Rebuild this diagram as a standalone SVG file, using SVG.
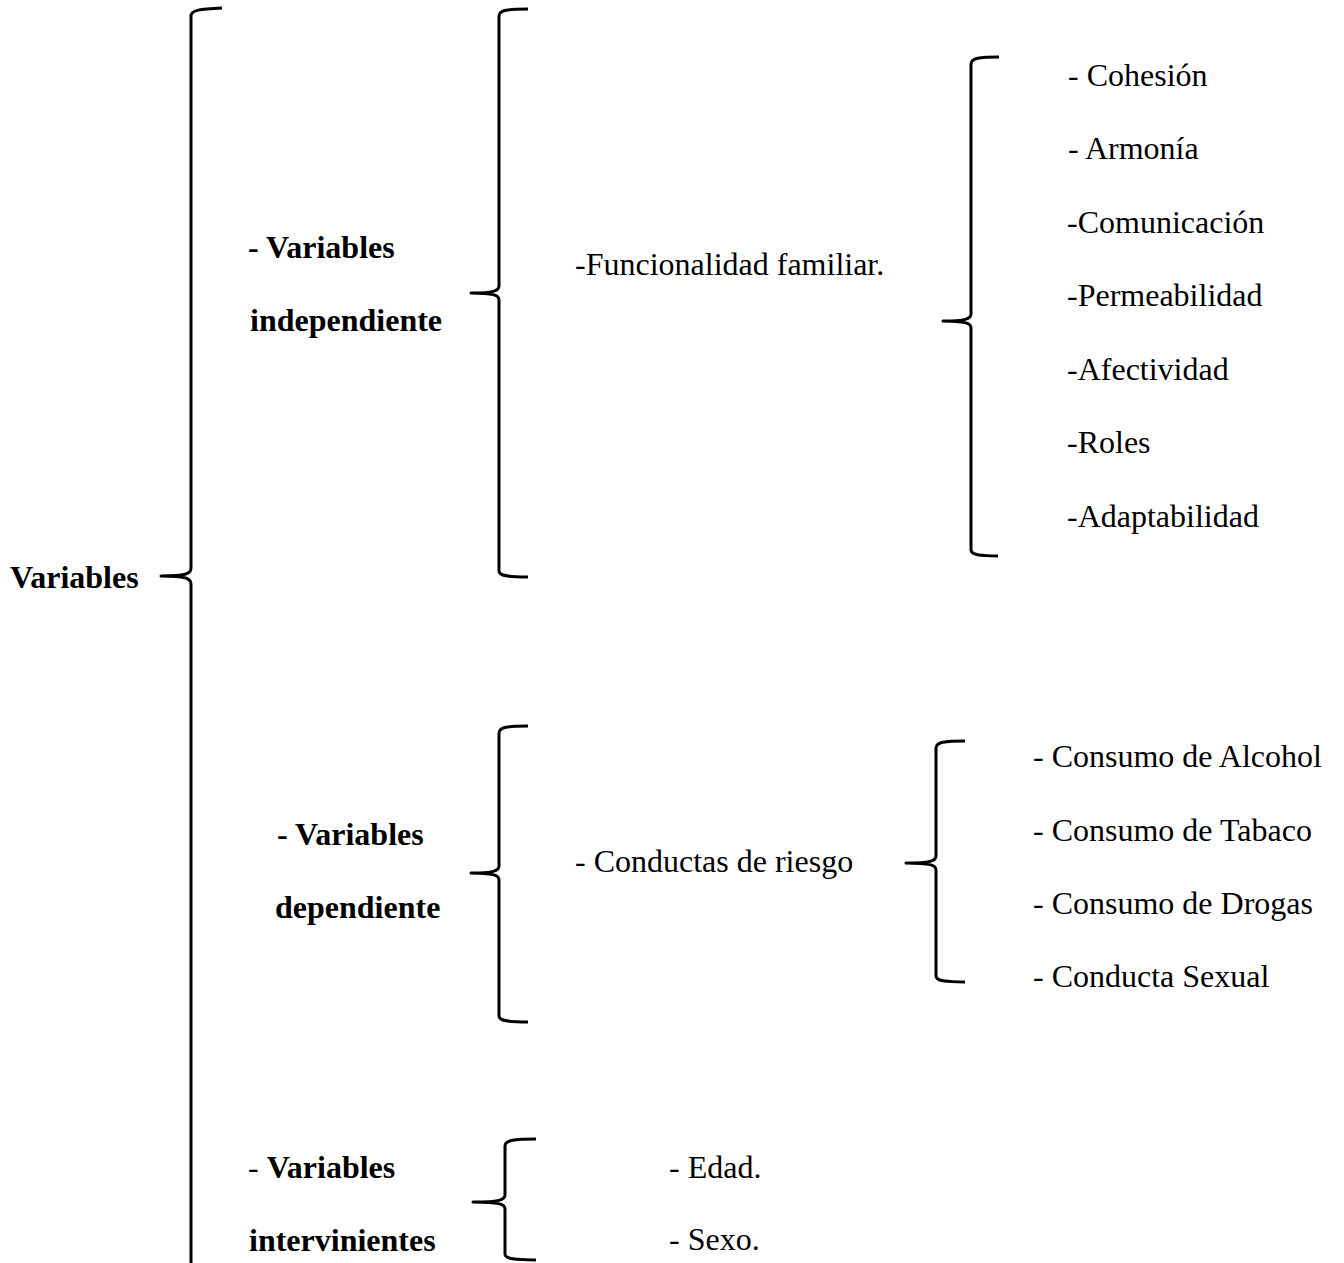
<svg xmlns="http://www.w3.org/2000/svg" width="1344" height="1263" viewBox="0 0 1344 1263">
<style>
text{font-family:"Liberation Serif","Times New Roman",serif;font-size:32px;fill:#000}
.b{font-weight:bold}
.br{fill:none;stroke:#000;stroke-width:3;stroke-linecap:butt;stroke-linejoin:round}
</style>
<rect width="1344" height="1263" fill="#fff"/>
<g id="connectors">
<path class="br" d="M222,8 C200,9 191,10 191,16 L191,568 C191,574 185,576 161,576 C185,576 191,578 191,584 L191,1263"/>
<path class="br" d="M528,9 C508,9 499,10 499,16 L499,286 C499,291 493,293 471,293 C493,293 499,295 499,300 L499,571 C499,576 508,577 528,577"/>
<path class="br" d="M999,57 C980,57 971,58 971,64 L971,314 C971,319 965,321 943,321 C965,321 971,323 971,328 L971,550 C971,555 980,556 998,556"/>
<path class="br" d="M528,726 C508,726 499,727 499,733 L499,866 C499,871 493,873 471,873 C493,873 499,875 499,880 L499,1016 C499,1021 508,1022 528,1022"/>
<path class="br" d="M965,741 C945,741 936,742 936,748 L936,856 C936,861 930,863 906,863 C930,863 936,865 936,870 L936,976 C936,981 945,982 965,982"/>
<path class="br" d="M536,1139 C515,1139 505,1140 505,1146 L505,1195 C505,1200 499,1202 473,1202 C499,1202 505,1204 505,1209 L505,1254 C505,1259 515,1260 536,1260"/>
</g>
<g id="variables"><text class="b" x="10" y="588">Variables</text></g>
<g id="independiente">
<text class="b" x="248" y="258">- Variables</text>
<text class="b" x="250" y="331">independiente</text>
</g>
<g id="funcionalidad"><text x="575" y="275">-Funcionalidad familiar.</text></g>
<g id="funcionalidad-items">
<text x="1068" y="86">- Cohesión</text>
<text x="1068" y="159">- Armonía</text>
<text x="1067" y="233">-Comunicación</text>
<text x="1067" y="306">-Permeabilidad</text>
<text x="1067" y="380">-Afectividad</text>
<text x="1067" y="453">-Roles</text>
<text x="1067" y="527">-Adaptabilidad</text>
</g>
<g id="dependiente">
<text class="b" x="277" y="845">- Variables</text>
<text class="b" x="275" y="918">dependiente</text>
</g>
<g id="conductas"><text x="575" y="872">- Conductas de riesgo</text></g>
<g id="conductas-items">
<text x="1033" y="767">- Consumo de Alcohol</text>
<text x="1033" y="841">- Consumo de Tabaco</text>
<text x="1033" y="914">- Consumo de Drogas</text>
<text x="1033" y="987">- Conducta Sexual</text>
</g>
<g id="intervinientes">
<text x="248" y="1178">- <tspan class="b">Variables</tspan></text>
<text class="b" x="249" y="1251">intervinientes</text>
</g>
<g id="intervinientes-items">
<text x="669" y="1178">- Edad.</text>
<text x="669" y="1250">- Sexo.</text>
</g>
</svg>
